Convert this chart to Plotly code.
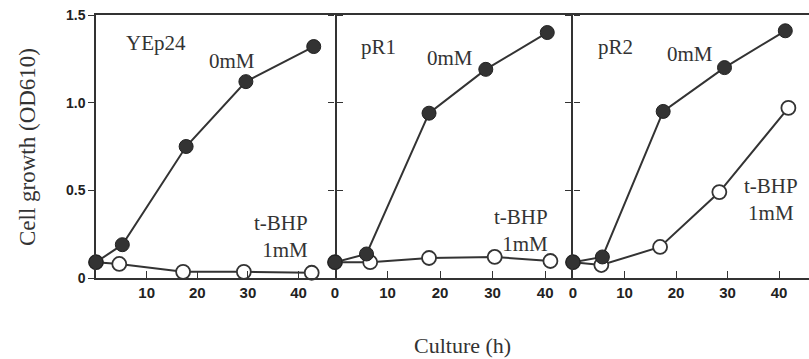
import plotly.graph_objects as go

# ---- data ----
panels = ["YEp24", "pR1", "pR2"]

t_fill_yep = [0, 5.2, 17.8, 29.6, 43.0]
v_fill_yep = [0.09, 0.19, 0.75, 1.12, 1.32]
t_open_yep = [0, 4.6, 17.2, 29.2, 42.6]
v_open_yep = [0.09, 0.08, 0.035, 0.035, 0.03]

t_fill_pr1 = [0, 6.0, 17.9, 28.7, 40.4]
v_fill_pr1 = [0.09, 0.137, 0.94, 1.19, 1.40]
t_open_pr1 = [0, 6.7, 17.9, 30.4, 41.0]
v_open_pr1 = [0.09, 0.09, 0.114, 0.12, 0.097]

t_fill_pr2 = [0, 5.7, 17.5, 29.4, 41.2]
v_fill_pr2 = [0.09, 0.12, 0.95, 1.20, 1.41]
t_open_pr2 = [0, 5.5, 16.9, 28.4, 41.8]
v_open_pr2 = [0.09, 0.074, 0.177, 0.49, 0.97]

y_ticks = [0, 0.5, 1.0, 1.5]
y_ticktext = ["0", "0.5", "1.0", "1.5"]
x_ticks_first = [10, 20, 30, 40]
x_ticks_other = [0, 10, 20, 30, 40]

series = [
    (t_open_yep, v_open_yep, t_fill_yep, v_fill_yep),
    (t_open_pr1, v_open_pr1, t_fill_pr1, v_fill_pr1),
    (t_open_pr2, v_open_pr2, t_fill_pr2, v_fill_pr2),
]

INK = "#333333"
SERIF = "Liberation Serif, Times New Roman, serif"
SANS = "Liberation Sans, Arial, sans-serif"

fig = go.Figure()
for i, (to, vo, tf, vf) in enumerate(series):
    xa = "x" if i == 0 else f"x{i+1}"
    ya = "y" if i == 0 else f"y{i+1}"
    fig.add_trace(go.Scatter(
        x=to, y=vo, xaxis=xa, yaxis=ya, mode="lines+markers",
        line=dict(color=INK, width=2),
        marker=dict(size=14, color="white", line=dict(color=INK, width=1.8)),
        cliponaxis=False, showlegend=False))
    fig.add_trace(go.Scatter(
        x=tf, y=vf, xaxis=xa, yaxis=ya, mode="lines+markers",
        line=dict(color=INK, width=2),
        marker=dict(size=14, color="#333333", line=dict(color="#222222", width=1)),
        cliponaxis=False, showlegend=False))

domains = [[0, 0.3352], [0.3352, 0.669], [0.669, 1.0]]
xranges = [[0, 47.2], [0, 45.3], [0, 45.8]]

axis_common = dict(linecolor=INK, linewidth=1.5, showgrid=False, zeroline=False)
layout = dict(
    width=809, height=359,
    margin=dict(l=96, r=0, t=15, b=81),
    paper_bgcolor="white", plot_bgcolor="white",
    showlegend=False,
)
for i in range(3):
    sx = "" if i == 0 else str(i + 1)
    layout[f"xaxis{sx}"] = dict(
        axis_common, showline=True, domain=domains[i], range=xranges[i],
        anchor=f"y{sx}",
        tickvals=x_ticks_first if i == 0 else x_ticks_other,
        ticks="inside", ticklen=7, tickcolor=INK, tickwidth=1.3, mirror=True,
        tickfont=dict(family=SANS, size=15, color="#222", weight="bold"),
    )
    layout[f"yaxis{sx}"] = dict(
        axis_common, range=[0, 1.5], anchor=f"x{sx}",
        showline=(i != 1),
        tickvals=y_ticks, ticktext=y_ticktext,
        ticks="outside", ticklen=6, tickcolor=INK, tickwidth=1.3,
        mirror="ticks" if i < 2 else False,
        showticklabels=(i == 0),
        tickfont=dict(family=SANS, size=14, color="#222", weight="bold"),
    )
    if i > 0:
        layout[f"yaxis{sx}"]["matches"] = "y"

fig.update_layout(**layout)

tf = dict(family=SERIF, size=21, color="#333")
ann = [
    # panel 1
    ("x", "y", 11.9, 1.34, "YEp24", "center", "center"),
    ("x", "y", 26.8, 1.24, "0mM", "center", "center"),
    ("x", "y", 42.3, 0.237, "t-BHP<br>1mM", "right", "right"),
    # panel 2
    ("x2", "y2", 8.2, 1.32, "pR1", "center", "center"),
    ("x2", "y2", 21.9, 1.255, "0mM", "center", "center"),
    ("x2", "y2", 41.0, 0.27, "t-BHP<br>1mM", "right", "right"),
    # panel 3
    ("x3", "y3", 8.3, 1.32, "pR2", "center", "center"),
    ("x3", "y3", 22.7, 1.28, "0mM", "center", "center"),
    ("x3", "y3", 32.8, 0.45, "t-BHP<br>1mM", "left", "center"),
]
for xr, yr, x, y, txt, xa, al in ann:
    fig.add_annotation(x=x, y=y, xref=xr, yref=yr, text=txt, showarrow=False,
                       font=tf, xanchor=xa, yanchor="middle", align=al)

fig.add_annotation(x=(27 - 96) / 713, y=(278 - 147) / 263, xref="paper", yref="paper",
                   text="Cell growth (OD610)", textangle=-90, showarrow=False,
                   font=dict(family=SERIF, size=23, color="#333"),
                   xanchor="center", yanchor="middle")
fig.add_annotation(x=(462 - 96) / 713, y=(278 - 345) / 263, xref="paper", yref="paper",
                   text="Culture (h)", showarrow=False,
                   font=dict(family=SERIF, size=22, color="#333"),
                   xanchor="center", yanchor="middle")

fig.write_html("out.html")
